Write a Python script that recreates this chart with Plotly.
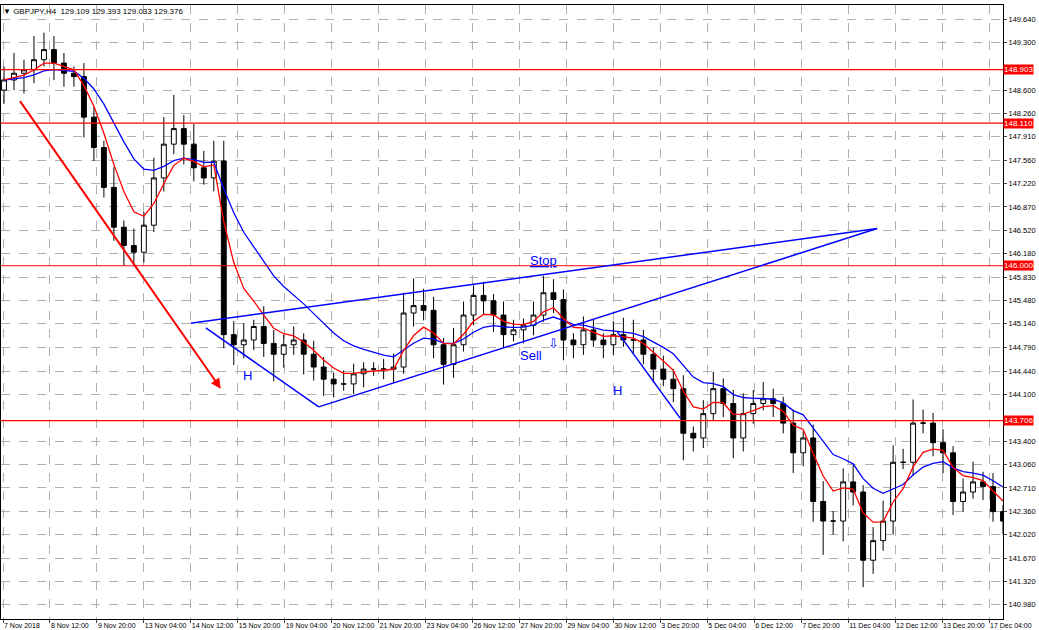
import plotly.graph_objects as go
import pandas as pd

closes = [148.75,148.85,148.90,149.05,149.20,149.00,148.85,148.80,148.20,147.75,147.16,146.57,146.30,146.20,146.60,147.30,147.80,148.03,147.80,147.45,147.30,147.55,
          144.98,144.83,144.90,145.10,144.85,144.69,144.83,144.90,144.69,144.50,144.32,144.25,144.25,144.40,144.47,144.47,144.47,144.50,145.30,145.41,145.34,144.83,144.54,144.83,145.27,145.56,145.48,145.27,144.98,145.05,145.12,145.27,145.60,145.50,144.90,144.83,145.05,144.90,144.83,144.98,144.90,144.90,144.69,144.47,144.32,144.18,143.52,143.45,143.81,144.18,143.96,143.45,143.81,143.96,144.03,143.96,143.67,143.23,143.45,142.51,142.22,142.22,142.80,142.65,141.64,141.93,142.22,143.09,143.09,143.67,143.67,143.38,143.23,142.51,142.65,142.80,142.73,142.36,142.22]
first_open = 148.60
wick_up = [0.2,0.3,0.15,0.35,0.25,0.2,0.15,0.1,0.2,0.15,0.1,0.3,0.1,0.25,0.2,0.3,0.4,0.5,0.2,0.3,0.25,0.3,
           0.3,0.2,0.25,0.1,0.3,0.2,0.15,0.2,0.1,0.2,0.15,0.1,0.2,0.15,0.1,0.1,0.15,0.2,0.3,0.4,0.25,0.2,0.1,0.25,0.2,0.15,0.2,0.1,0.2,0.15,0.1,0.2,0.25,0.2,0.15,0.1,0.2,0.15,0.1,0.2,0.25,0.3,0.15,0.1,0.2,0.15,0.2,0.1,0.2,0.25,0.15,0.2,0.3,0.2,0.25,0.15,0.1,0.2,0.1,0.2,0.3,0.15,0.2,0.25,0.1,0.2,0.3,0.25,0.2,0.35,0.2,0.15,0.2,0.1,0.2,0.3,0.15,0.2,0.1]
wick_dn = [0.2,0.15,0.3,0.2,0.1,0.25,0.2,0.15,0.3,0.2,0.15,0.2,0.3,0.2,0.15,0.1,0.2,0.15,0.3,0.2,0.1,0.2,
           0.2,0.3,0.2,0.15,0.2,0.4,0.2,0.15,0.3,0.2,0.25,0.2,0.1,0.15,0.2,0.1,0.15,0.2,0.1,0.2,0.15,0.2,0.3,0.2,0.1,0.15,0.2,0.25,0.2,0.1,0.2,0.15,0.1,0.2,0.3,0.2,0.15,0.1,0.2,0.15,0.1,0.2,0.15,0.2,0.1,0.2,0.4,0.2,0.15,0.1,0.2,0.3,0.2,0.15,0.1,0.2,0.15,0.3,0.2,0.3,0.5,0.2,0.3,0.2,0.4,0.2,0.15,0.2,0.1,0.2,0.15,0.2,0.3,0.2,0.15,0.1,0.2,0.15,0.2]

date_labels = ["7 Nov 2018","8 Nov 12:00","9 Nov 20:00","13 Nov 04:00","14 Nov 12:00","15 Nov 20:00","19 Nov 04:00","20 Nov 12:00","21 Nov 20:00","23 Nov 04:00","26 Nov 12:00","27 Nov 20:00","29 Nov 04:00","30 Nov 12:00","3 Dec 20:00","5 Dec 04:00","6 Dec 12:00","7 Dec 20:00","11 Dec 04:00","12 Dec 12:00","13 Dec 20:00","17 Dec 04:00"]
price_ticks = [149.640,149.300,148.600,148.260,147.910,147.560,147.220,146.870,146.520,146.180,145.830,145.480,145.140,144.790,144.440,144.100,143.400,143.060,142.710,142.360,142.020,141.670,141.320,140.980]
levels = [148.903,148.110,146.000,143.706]

# drawn trendlines (bar index, price)
blue_lines = [((18.7,145.15),(87.4,146.55)),((31.5,143.91),(87.4,146.55)),((20.2,145.08),(31.5,143.91)),((61.4,145.02),(67.7,143.74))]
red_arrow = ((1.5,148.46),(21.7,144.18))

n = len(closes)
opens = [first_open] + closes[:-1]
highs = [max(o,c)+w for o,c,w in zip(opens,closes,wick_up)]
lows = [min(o,c)-w for o,c,w in zip(opens,closes,wick_dn)]
idx = list(range(n))
s = pd.Series(closes)
ma_fast = s.ewm(span=5, adjust=False).mean()
ma_slow = s.ewm(span=12, adjust=False).mean()

FONT = "Liberation Sans"
fig = go.Figure()
fig.add_trace(go.Candlestick(x=idx, open=opens, high=highs, low=lows, close=closes,
    increasing=dict(line=dict(color="black", width=1), fillcolor="white"),
    decreasing=dict(line=dict(color="black", width=1), fillcolor="black"),
    whiskerwidth=0, showlegend=False, hoverinfo="skip"))
fig.add_trace(go.Scatter(x=idx, y=ma_slow, mode="lines", line=dict(color="#0000ff", width=1.3), showlegend=False))
fig.add_trace(go.Scatter(x=idx, y=ma_fast, mode="lines", line=dict(color="#ff0000", width=1.3), showlegend=False))

for lv in levels:
    fig.add_hline(y=lv, line=dict(color="#ff0000", width=1.2))
    fig.add_annotation(x=1, xref="paper", y=lv, yref="y", text=f"{lv:.3f}", showarrow=False,
                       xanchor="left", bgcolor="#ff0000", font=dict(color="white", size=8, family=FONT), borderpad=0)
for (a, b) in blue_lines:
    fig.add_shape(type="line", x0=a[0], y0=a[1], x1=b[0], y1=b[1], line=dict(color="#0000ff", width=1.5))
fig.add_annotation(x=red_arrow[1][0], y=red_arrow[1][1], ax=red_arrow[0][0], ay=red_arrow[0][1], axref="x", ayref="y",
                   showarrow=True, arrowhead=2, arrowsize=1, arrowwidth=2, arrowcolor="#ff0000", text="")

def txt(x, y, t, size=13, u=False):
    fig.add_annotation(x=x, y=y, text=(f"<u>{t}</u>" if u else t), showarrow=False,
                       font=dict(color="#0000ff", size=size, family="Arial"))
txt(24.4, 144.38, "H")
txt(61.4, 144.15, "H")
txt(54.0, 146.08, "Stop", u=True)
txt(52.8, 144.67, "Sell")
txt(55.0, 144.85, "⇩", size=13)

fig.add_annotation(x=0, y=1, xref="paper", yref="paper", xanchor="left", yanchor="top", showarrow=False,
                   text="▼ GBPJPY,H4  129.109 129.393 129.033 129.376", font=dict(size=8, color="black", family=FONT))

tick_pos = [k*4.7 - 0.1 for k in range(len(date_labels))]
grid = dict(showgrid=True, gridcolor="#b0b0b0", griddash="dash", gridwidth=1)
fig.update_layout(width=1039, height=630, margin=dict(l=1, r=36, t=5, b=11),
    paper_bgcolor="white", plot_bgcolor="white",
    xaxis=dict(range=[-0.3, 100.0], tickvals=tick_pos, ticktext=date_labels, rangeslider=dict(visible=False),
               tickfont=dict(size=7, family=FONT, color="black"), ticklabelposition="outside right", tickangle=0,
               automargin=False, showline=True, mirror=True, linecolor="black", ticks="outside", ticklen=3, zeroline=False, **grid),
    yaxis=dict(range=[140.77, 149.86], side="right", tickvals=price_ticks, ticktext=[f"{p:.3f}" for p in price_ticks],
               tickfont=dict(size=7.5, family=FONT, color="black"), showline=True, mirror=True, linecolor="black",
               automargin=False, ticks="outside", ticklen=3, zeroline=False, **grid))
fig.write_html("out.html", config={"displayModeBar": False},
               post_script="document.body.style.margin='0';document.body.style.overflow='hidden';")
